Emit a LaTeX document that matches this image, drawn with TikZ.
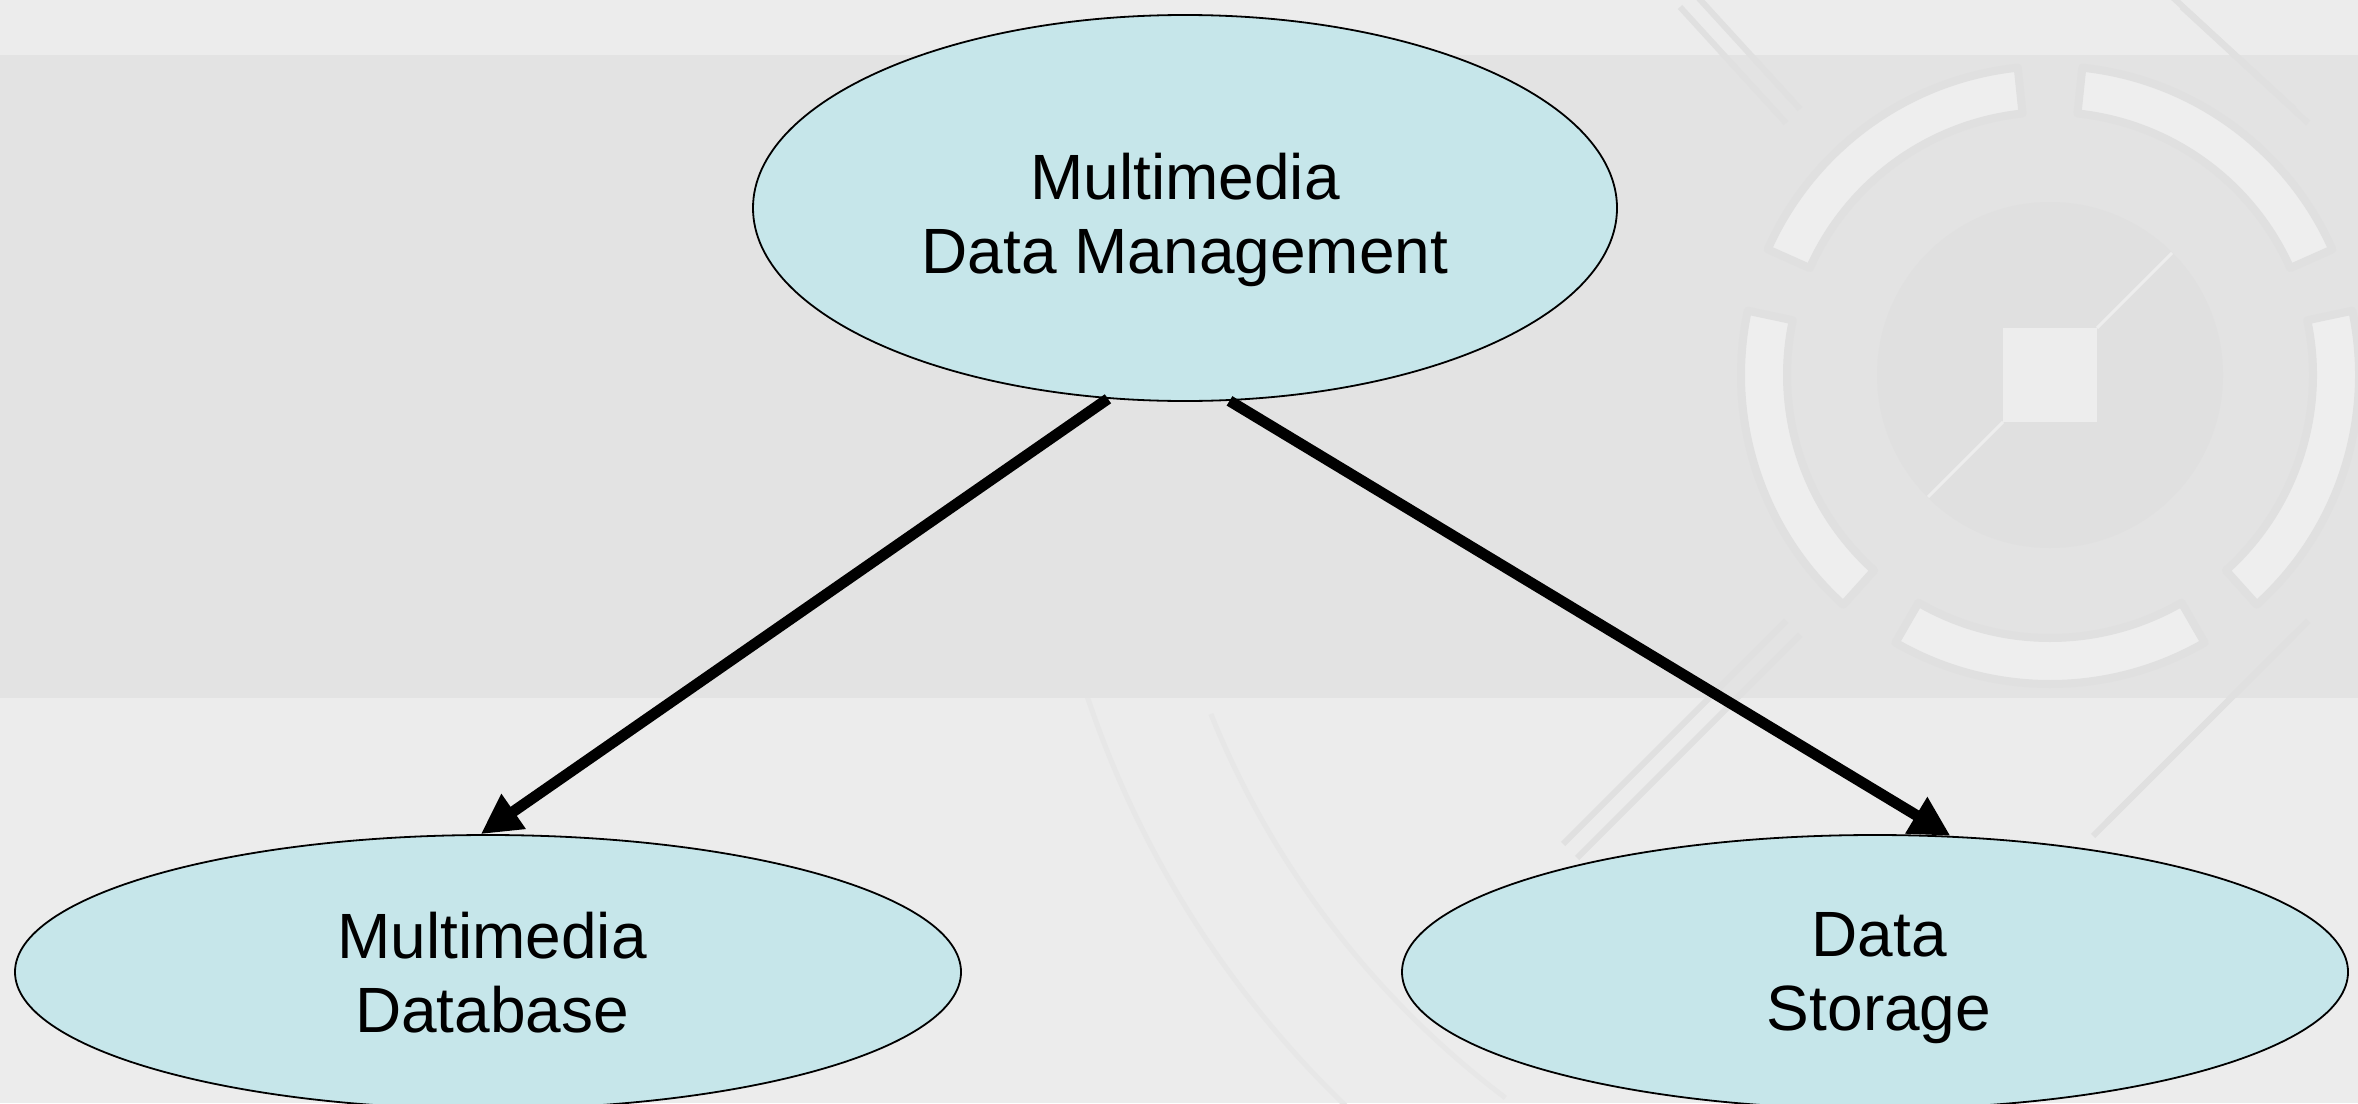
\documentclass[tikz,border=0pt]{standalone}
\usepackage{fontspec}
\setmainfont{Liberation Sans}
\usetikzlibrary{shapes.geometric,arrows.meta}
\definecolor{bgA}{RGB}{236,236,236}
\definecolor{bgB}{RGB}{227,227,227}
\definecolor{ellfill}{RGB}{198,230,234}
\definecolor{ornline}{RGB}{224,224,224}
\definecolor{orndisk}{RGB}{224,224,224}
\definecolor{ornring}{RGB}{238,238,238}
\definecolor{ornsq}{RGB}{237,237,237}
\definecolor{arcline}{RGB}{231,231,231}
\begin{document}
\begin{tikzpicture}[x=1pt,y=-1pt,
  topic/.style={ellipse, draw=black, line width=1.8pt, fill=ellfill, inner sep=0pt},
  txt/.style={align=center, inner sep=0pt, font=\fontsize{64}{74}\selectfont},
  link/.style={line width=11pt, -{Triangle[length=40pt,width=40pt]}},
  faint/.style={draw=ornline, line width=6pt}]
\useasboundingbox (0,0) rectangle (2358,1103);
% background
\fill[bgA] (0,0) rectangle (2358,1103);
\fill[bgB] (0,55) rectangle (2358,698);
% faint big arcs (lower area only)
\begin{scope}
  \clip (0,698) rectangle (2358,1103);
  \begin{scope}[shift={(2050,375)}]
    \draw[arcline, line width=5pt] (128:1015) arc[start angle=128, end angle=162, radius=1015];
    \draw[arcline, line width=5pt] (127:905) arc[start angle=127, end angle=158, radius=905];
  \end{scope}
\end{scope}
\begin{scope}[shift={(2050,375)}]
  % disk
  \fill[orndisk] (0,0) circle (173);
  % ring segments
  \foreach \g in {-90,-162,-234,-306,-378} {
    \filldraw[fill=ornring, draw=ornline, line width=8pt, line join=round]
      ({\g+6}:309) arc[start angle={\g+6}, end angle={\g+66}, radius=309]
      -- ({\g+66}:263) arc[start angle={\g+66}, end angle={\g+6}, radius=263] -- cycle;
  }
  % square and diagonals
  \fill[ornsq] (-47,-47) rectangle (47,47);
  \draw[ornsq, line width=3pt] (47,-47) -- (122,-122);
  \draw[ornsq, line width=3pt] (-47,47) -- (-122,122);
  % outer diagonal double lines
  \foreach \s in {-1,1} {
    \draw[faint] ({-363+\s*7},{-375-\s*7}) -- ({-257+\s*7},{-259-\s*7});
    \draw[faint] ({125+\s*7},{-375+\s*7}) -- ({251+\s*7},{-259+\s*7});
    \draw[faint] ({-257+\s*7},{253+\s*7}) -- ({-480+\s*7},{476+\s*7});
    \draw[faint] ({251+\s*7},{253-\s*7}) -- ({50+\s*7},{454-\s*7});
  }
\end{scope}
% nodes
\node[topic, minimum width=864pt, minimum height=386pt] (mdm) at (1185,208) {};
\node[topic, minimum width=946pt, minimum height=274pt] (mdb) at (488,972) {};
\node[topic, minimum width=946pt, minimum height=274pt] (ds) at (1875,972) {};
\node[txt] (mdmtext) at ([yshift=-12pt]mdm.center) {Multimedia\\Data Management};
\node[txt] (mdbtext) at ([xshift=4pt,yshift=-1pt]mdb.center) {Multimedia\\Database};
\node[txt] (dstext) at ([xshift=4pt,yshift=-6pt]ds.center) {Data\\Storage};
% connectors
\draw[link] (mdm.248.2) -- (mdb.93);
\draw[link] (mdm.283.8) -- (ds.61);
\end{tikzpicture}
\end{document}
